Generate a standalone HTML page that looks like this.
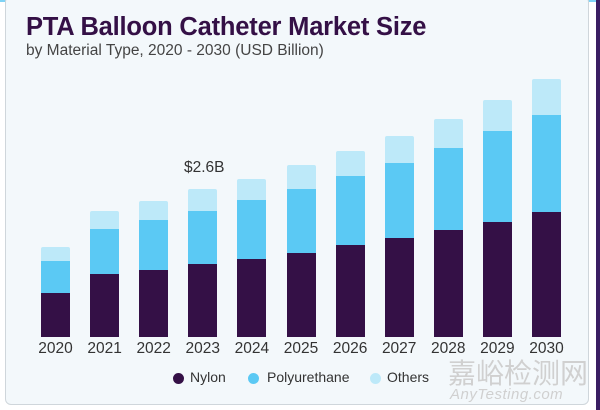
<!DOCTYPE html>
<html><head><meta charset="utf-8"><style>
body{margin:0;width:600px;height:410px;overflow:hidden;background:#fff;font-family:"Liberation Sans",sans-serif;position:relative}
.card{position:absolute;left:5px;top:-4px;width:582px;height:407px;background:#f3f8fb;border:1px solid #cfd6db;border-radius:6px}
.topline{position:absolute;left:0;top:0;width:600px;height:2px;background:#7fd3f5}
.rl{position:absolute;left:596px;top:0;width:4px;height:410px;background:#3a1e63}
h1{position:absolute;left:26px;top:13px;margin:0;font-size:25.5px;font-weight:bold;color:#341046;letter-spacing:-0.2px;white-space:nowrap}
.sub{position:absolute;left:26px;top:42px;font-size:15.5px;color:#444;white-space:nowrap}
.b{position:absolute;width:29px}
.yr{position:absolute;top:340px;width:50px;text-align:center;font-size:15.5px;color:#333}
.lg{position:absolute;top:369px;font-size:14px;color:#333}
.dot{position:absolute;top:373px;width:11px;height:11px;border-radius:50%}
.wm{position:absolute;font-family:"Noto Sans CJK SC",sans-serif;color:#d0d0d0;white-space:nowrap}
</style></head><body>
<div class="topline"></div>
<div class="card"></div>
<div class="rl"></div>
<h1>PTA Balloon Catheter Market Size</h1>
<div class="sub">by Material Type, 2020 - 2030 (USD Billion)</div>
<div style="position:absolute;left:184px;top:159px;font-size:15.5px;color:#333">$2.6B</div>
<div id="c"></div>
<div class="dot" style="left:173px;background:#341046"></div><div class="lg" style="left:190px">Nylon</div>
<div class="dot" style="left:248px;background:#5bc9f4"></div><div class="lg" style="left:267px">Polyurethane</div>
<div class="dot" style="left:370px;background:#bde9f9"></div><div class="lg" style="left:387px">Others</div>
<div class="wm" style="left:448px;top:352px;font-size:28px">嘉峪检测网</div>
<div class="wm" style="left:450px;top:386px;font-size:15px;font-style:italic;font-family:'Liberation Sans',sans-serif;letter-spacing:0.5px">AnyTesting.com</div>
<script>
var d=[[247,261,293],[211,229,274],[201,220,270],[189,211,264],[179,200,259],[165,189,253],[151,176,245],[136,163,238],[119,148,230],[100,131,222],[79,115,212]];
var h='';d.forEach(function(t,i){var x=41+i*49.1;
h+='<div class="b" style="left:'+x+'px;top:'+t[0]+'px;height:'+(t[1]-t[0])+'px;background:#bde9f9;border-radius:2px 2px 0 0"></div>';
h+='<div class="b" style="left:'+x+'px;top:'+t[1]+'px;height:'+(t[2]-t[1])+'px;background:#5bc9f4"></div>';
h+='<div class="b" style="left:'+x+'px;top:'+t[2]+'px;height:'+(337-t[2])+'px;background:#341046"></div>';
h+='<div class="yr" style="left:'+(x-10.5)+'px">'+(2020+i)+'</div>';});
document.getElementById('c').innerHTML=h;
</script>
</body></html>
